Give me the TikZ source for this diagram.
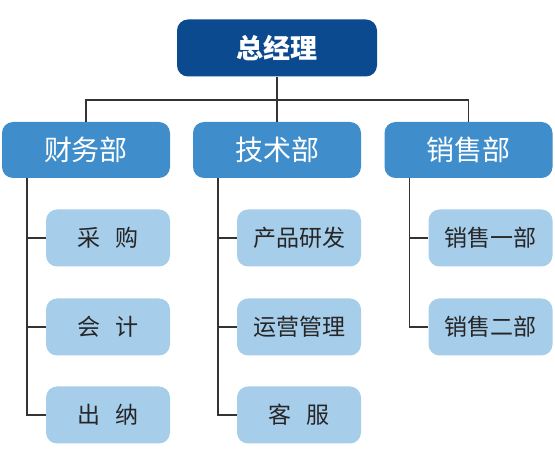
\documentclass[tikz,border=0pt]{standalone}
\usepackage{fontspec}
\setmainfont{Noto Sans CJK SC}
\definecolor{topc}{HTML}{0B4A8F}
\definecolor{midc}{HTML}{3F8DCA}
\definecolor{subc}{HTML}{A6CDEA}
\definecolor{linec}{HTML}{333333}
\tikzset{
  topbox/.style={fill=topc,rounded corners=11pt,text=white,font=\fontsize{27}{27}\selectfont\bfseries,minimum width=200pt,minimum height=57pt,inner sep=0pt},
  midbox/.style={fill=midc,rounded corners=11pt,text=white,font=\fontsize{28}{28}\selectfont,minimum width=168pt,minimum height=56pt,inner sep=0pt},
  subbox/.style={fill=subc,rounded corners=11pt,text=black!85,font=\fontsize{23}{23}\selectfont,minimum width=124pt,minimum height=57pt,inner sep=0pt},
  conn/.style={draw=linec,line width=1.3pt}
}
\begin{document}
\begin{tikzpicture}[x=1pt,y=-1pt]
\useasboundingbox (0,0) rectangle (555,449);
\node[topbox] (gm) at (277,48) {总经理};
\node[midbox] (cw) at (86,150) {财务部};
\node[midbox] (js) at (277,150) {技术部};
\node[midbox] (xs) at (468.5,150) {销售部};
\node[subbox] (cg) at (108,238) {采\hspace{0.65em}购};
\node[subbox] (kj) at (108,327) {会\hspace{0.65em}计};
\node[subbox] (cn) at (108,415) {出\hspace{0.65em}纳};
\node[subbox] (cp) at (299,238) {产品研发};
\node[subbox] (yy) at (299,327) {运营管理};
\node[subbox] (kf) at (299,415) {客\hspace{0.65em}服};
\node[subbox] (x1) at (490.5,238) {销售一部};
\node[subbox] (x2) at (490.5,327) {销售二部};
\coordinate (bar) at (277,100);
\draw[conn] (gm.south) -- (js.north);
\draw[conn] (cw.north) |- (bar) -| (xs.north);
\draw[conn] ([xshift=-59pt]cw.south) |- (cn.west);
\draw[conn] ([xshift=-59pt]cw.south |- cg.west) -- (cg.west);
\draw[conn] ([xshift=-59pt]cw.south |- kj.west) -- (kj.west);
\draw[conn] ([xshift=-59pt]js.south) |- (kf.west);
\draw[conn] ([xshift=-59pt]js.south |- cp.west) -- (cp.west);
\draw[conn] ([xshift=-59pt]js.south |- yy.west) -- (yy.west);
\draw[conn] ([xshift=-59pt]xs.south) |- (x2.west);
\draw[conn] ([xshift=-59pt]xs.south |- x1.west) -- (x1.west);
\end{tikzpicture}
\end{document}
